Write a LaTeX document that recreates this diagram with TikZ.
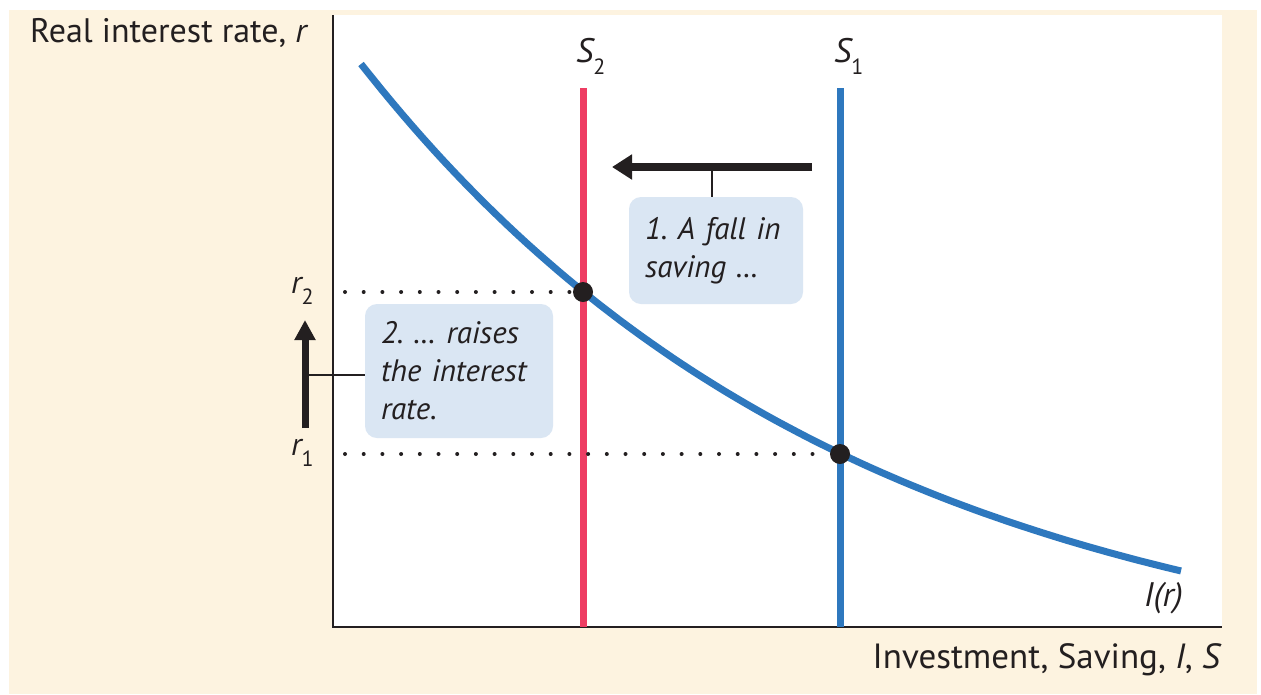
\documentclass[tikz,border=0pt]{standalone}
\usepackage{fontspec}
\setmainfont{PT Sans}
\usetikzlibrary{arrows.meta}
\definecolor{bg}{HTML}{FDF3E0}
\definecolor{curveblue}{HTML}{2E78BE}
\definecolor{sred}{HTML}{EE3D63}
\definecolor{boxfill}{HTML}{DAE6F3}
\definecolor{ink}{HTML}{231F20}
\newcommand\lowsub[1]{\raisebox{-0.36em}{\fontsize{22}{22}\selectfont\upshape #1}}
\frenchspacing
\begin{document}
\begin{tikzpicture}[x=1pt,y=-1pt,
  lbl/.style={font=\fontsize{34}{36}\selectfont, text=ink, inner sep=0pt},
  slbl/.style={font=\fontsize{34}{36}\selectfont\itshape, text=ink, inner sep=0pt, anchor=base west},
  rlbl/.style={font=\fontsize{32}{34}\selectfont\itshape, text=ink, inner sep=0pt, anchor=base west},
  note/.style={fill=boxfill, rounded corners=12pt, font=\fontsize{31}{38}\selectfont\itshape,
    text=ink, align=left, inner xsep=16pt, inner ysep=0pt},
  dot/.style={circle, fill=ink, minimum size=20pt, inner sep=0pt},
  sline/.style={line width=7pt},
  dotted line/.style={ink, line width=4pt, line cap=round, dash pattern=on 0pt off 18.7pt},
  bigarrow/.style={ink, line width=8pt, -{Triangle[length=20pt,width=24pt]}},
  leader/.style={ink, line width=1.5pt}]
\useasboundingbox (0,0) rectangle (1261,694);
\fill[white] (0,0) rectangle (1261,694);
\fill[bg] (9,10) rectangle (1257,694);
\fill[white] (333,15) rectangle (1222,627);
\draw[ink, line width=2pt] (333,15) -- (333,627) -- (1222,627);

% axis labels
\node[lbl, anchor=base west] (ylab) at (30,42) {Real interest rate, \textit{r}};
\node[lbl, font=\fontsize{35}{37}\selectfont, anchor=base east] (xlab) at (1222,668) {Investment, Saving, \textit{I}, \textit{S}};

% curves
\draw[curveblue, line width=7pt] plot[domain=361:1181, samples=80]
  (\x, {64+623.6*(1-exp(-0.00205*(\x-361)))});
\node[lbl, font=\fontsize{34}{36}\selectfont\itshape, anchor=base west] (Ir) at (1144,606) {I(r)};

\coordinate (s2top) at (583,88);
\coordinate (s2bot) at (583,627);
\coordinate (s1top) at (840,88);
\coordinate (s1bot) at (840,627);
\draw[sred, sline] (s2top) -- (s2bot);
\draw[curveblue, sline] (s1top) -- (s1bot);
\node[slbl] (S2) at (576,62) {S\lowsub{2}};
\node[slbl] (S1) at (834,62) {S\lowsub{1}};

% equilibrium points
\node[dot] (d2) at (583,292) {};
\node[dot] (d1) at (840,454) {};
\coordinate (r2c) at (345,292);
\coordinate (r1c) at (345,454);
\draw[dotted line] (r2c) -- (d2.west);
\draw[dotted line] (r1c) -- (d1.west);
\node[rlbl] (r2) at (291,293) {r\lowsub{2}};
\node[rlbl] (r1) at (291,455) {r\lowsub{1}};

% shift arrow and note 1
\coordinate (a1s) at (812,167);
\coordinate (a1e) at (612,167);
\coordinate (a1m) at (712,167);
\draw[bigarrow] (a1s) -- (a1e);
\node[note, text width=142pt, minimum height=107pt] (n1) at (716,250.5) {1. A fall in\\saving …};
\draw[leader] (a1m) -- (a1m |- n1.north);

% rate arrow and note 2
\coordinate (a2s) at (305,428);
\coordinate (a2e) at (305,320);
\coordinate (a2m) at (305,375);
\draw[bigarrow, line width=7pt, -{Triangle[length=20pt,width=20pt]}] (a2s) -- (a2e);
\node[note, text width=156pt, minimum height=134pt] (n2) at (459,371) {2. … raises\\the interest\\rate.};
\draw[leader] (a2m) -- (a2m -| n2.west);
\end{tikzpicture}
\end{document}
